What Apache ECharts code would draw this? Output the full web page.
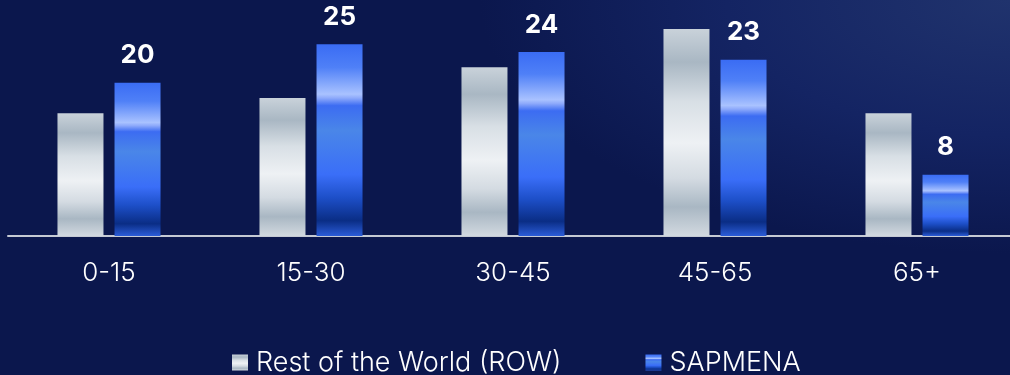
<!DOCTYPE html>
<html>
<head>
<meta charset="utf-8">
<script src="https://cdn.jsdelivr.net/npm/echarts@6/dist/echarts.min.js"></script>
<style>
  html, body { margin: 0; padding: 0; }
  body {
    width: 1010px; height: 375px; overflow: hidden;
    background: radial-gradient(ellipse 70% 90% at 100% 0%, #20336d 0%, #142463 40%, rgba(11,23,77,0) 75%), #0b174d;
  }
  #chart { width: 1010px; height: 375px; }
</style>
</head>
<body>
<div id="chart"></div>
<script>
// Age bands and share (%) per region
const categories = ['0-15', '15-30', '30-45', '45-65', '65+'];
const rowValues = [16, 18, 22, 27, 16];
const sapmenaValues = [20, 25, 24, 23, 8];
const seriesNames = ['Rest of the World (ROW)', 'SAPMENA'];

const FONT = 'Inter, "Noto Sans", sans-serif';

// Metallic silver fill
const silverFill = new echarts.graphic.LinearGradient(0, 0, 0, 1, [
  { offset: 0.00, color: '#c9d2da' },
  { offset: 0.16, color: '#a9b7c3' },
  { offset: 0.35, color: '#d8dfe5' },
  { offset: 0.55, color: '#eef1f4' },
  { offset: 0.72, color: '#d4dbe2' },
  { offset: 0.86, color: '#a9b7c3' },
  { offset: 1.00, color: '#d2d9e0' }
]);

// Glossy blue fill
const blueFill = new echarts.graphic.LinearGradient(0, 0, 0, 1, [
  { offset: 0.00, color: '#3a6cf4' },
  { offset: 0.12, color: '#4f80f7' },
  { offset: 0.26, color: '#a9c2ff' },
  { offset: 0.28, color: '#8eaafb' },
  { offset: 0.32, color: '#3c6cf2' },
  { offset: 0.45, color: '#4a86e8' },
  { offset: 0.68, color: '#3a6ef8' },
  { offset: 0.80, color: '#1d4fc8' },
  { offset: 0.92, color: '#0a2d85' },
  { offset: 1.00, color: '#2b5cd8' }
]);

const chart = echarts.init(document.getElementById('chart'), null, { renderer: 'canvas' });

chart.setOption({
  backgroundColor: 'transparent',
  animation: false,
  grid: { left: 8, width: 1010, top: 6, bottom: 139, containLabel: false, outerBoundsMode: 'none' },
  legend: {
    data: seriesNames,
    left: 227,
    bottom: -6,
    itemWidth: 16,
    itemHeight: 16,
    itemGap: 84,
    icon: 'rect',
    textStyle: { color: '#ffffff', fontFamily: FONT, fontSize: 27, fontWeight: 300, padding: [0, 0, 0, 3] }
  },
  xAxis: {
    type: 'category',
    data: categories,
    axisTick: { show: false },
    axisLine: { lineStyle: { color: '#c5cad4', width: 2 } },
    axisLabel: { color: '#ffffff', fontFamily: FONT, fontSize: 26, fontWeight: 300, margin: 24 }
  },
  yAxis: {
    type: 'value',
    min: 0,
    max: 30,
    show: false,
    splitLine: { show: false }
  },
  series: [
    {
      name: seriesNames[0],
      type: 'bar',
      data: rowValues,
      barWidth: 46,
      barGap: '24%',
      itemStyle: { color: silverFill }
    },
    {
      name: seriesNames[1],
      type: 'bar',
      data: sapmenaValues,
      barWidth: 46,
      itemStyle: { color: blueFill },
      label: {
        show: true,
        position: 'top',
        distance: 14,
        color: '#ffffff',
        fontFamily: FONT,
        fontSize: 26,
        fontWeight: 'bold'
      }
    }
  ]
});
</script>
</body>
</html>
